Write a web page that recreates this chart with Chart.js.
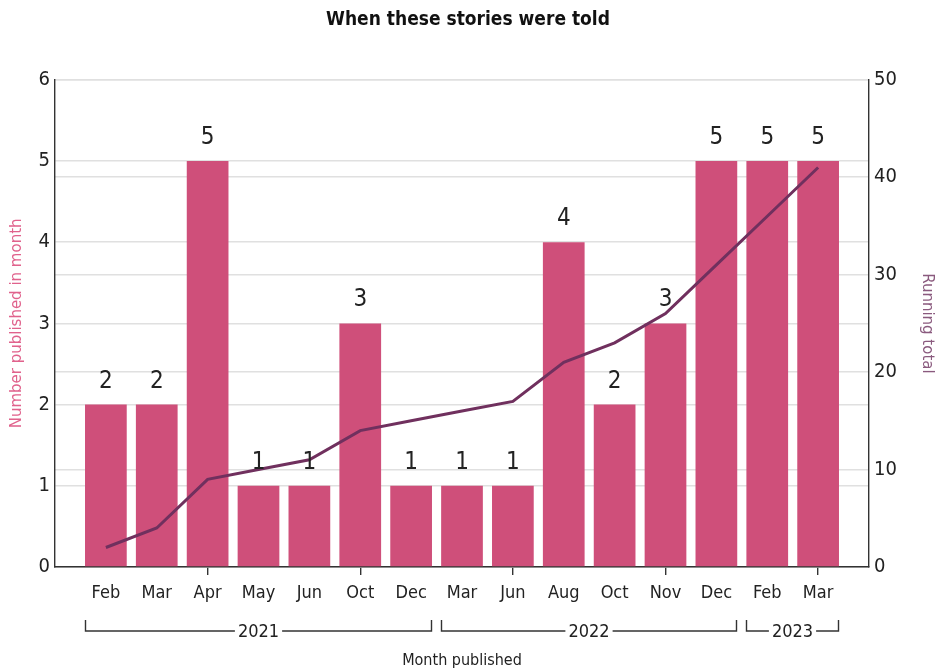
<!DOCTYPE html>
<html>
<head>
<meta charset="utf-8">
<script src="https://cdn.jsdelivr.net/npm/chart.js@4"></script>
<style>
  html, body { margin: 0; padding: 0; background: #fff; }
  #wrap { width: 936px; height: 670px; position: relative; }
</style>
</head>
<body>
<div id="wrap"><canvas id="chart"></canvas></div>
<script>
// Stories published per month, with the year each month belongs to
const months = ['Feb', 'Mar', 'Apr', 'May', 'Jun', 'Oct', 'Dec', 'Mar', 'Jun', 'Aug', 'Oct', 'Nov', 'Dec', 'Feb', 'Mar'];
const monthYears = ['2021', '2021', '2021', '2021', '2021', '2021', '2021', '2022', '2022', '2022', '2022', '2022', '2022', '2023', '2023'];
const published = [2, 2, 5, 1, 1, 3, 1, 1, 1, 4, 2, 3, 5, 5, 5];
const runningTotal = [2, 4, 9, 10, 11, 14, 15, 16, 17, 21, 23, 26, 31, 36, 41];

const NARROW = "'DejaVu Sans Condensed', sans-serif";
const BAR_COLOR = '#cf4f7a';
const LINE_COLOR = '#70305e';
const INK = '#222';

// Group consecutive months by year for the bracket row
function yearGroups() {
  const groups = [];
  monthYears.forEach((y, i) => {
    const last = groups[groups.length - 1];
    if (last && last.year === y) last.to = i;
    else groups.push({ year: y, from: i, to: i });
  });
  return groups;
}

// Value labels above each bar
const barLabels = {
  id: 'barLabels',
  afterDatasetsDraw(chart) {
    const meta = chart.getDatasetMeta(1);
    const ctx = chart.ctx;
    ctx.save();
    ctx.font = `24px ${NARROW}`;
    ctx.fillStyle = INK;
    ctx.textAlign = 'center';
    ctx.textBaseline = 'alphabetic';
    meta.data.forEach((bar, i) => {
      ctx.fillText(String(published[i]), bar.x, bar.y - 17);
    });
    ctx.restore();
  }
};

// Year brackets under the month labels
const yearBrackets = {
  id: 'yearBrackets',
  afterDraw(chart) {
    const meta = chart.getDatasetMeta(1);
    const ctx = chart.ctx;
    const yLine = 631, yTop = 620;
    ctx.save();
    ctx.strokeStyle = '#333';
    ctx.lineWidth = 1.4;
    ctx.font = `18px ${NARROW}`;
    ctx.fillStyle = INK;
    ctx.textAlign = 'center';
    ctx.textBaseline = 'middle';
    yearGroups().forEach(g => {
      const first = meta.data[g.from], last = meta.data[g.to];
      const x0 = Math.round(first.x - first.width / 2) + 0.5;
      const x1 = Math.round(last.x + last.width / 2) - 0.5;
      const mid = (x0 + x1) / 2;
      const half = ctx.measureText(g.year).width / 2 + 3;
      ctx.beginPath();
      ctx.moveTo(x0, yTop); ctx.lineTo(x0, yLine); ctx.lineTo(mid - half, yLine);
      ctx.moveTo(mid + half, yLine); ctx.lineTo(x1, yLine); ctx.lineTo(x1, yTop);
      ctx.stroke();
      ctx.fillText(g.year, mid, yLine + 1);
    });
    ctx.restore();
  }
};

const lineData = runningTotal.map((v, i) => ({ x: i, y: v }));
const barData = published.map((v, i) => ({ x: i, y: v }));

new Chart(document.getElementById('chart'), {
  type: 'bar',
  data: {
    datasets: [
      {
        type: 'line',
        label: 'Running total',
        data: lineData,
        yAxisID: 'y2',
        borderColor: LINE_COLOR,
        borderWidth: 3,
        pointRadius: 0,
        tension: 0,
        order: 0
      },
      {
        type: 'bar',
        label: 'Number published in month',
        data: barData,
        yAxisID: 'y',
        backgroundColor: BAR_COLOR,
        categoryPercentage: 1,
        barPercentage: 0.82,
        order: 1
      }
    ]
  },
  options: {
    responsive: true,
    maintainAspectRatio: false,
    animation: false,
    layout: { padding: 0 },
    plugins: {
      legend: { display: false },
      tooltip: { enabled: false },
      title: {
        display: true,
        text: 'When these stories were told',
        color: '#111',
        font: { family: NARROW, size: 19, weight: 'bold' },
        padding: { top: 9, bottom: 48 }
      }
    },
    scales: {
      x: {
        type: 'linear',
        offset: false,
        min: -1,
        max: 15,
        afterFit: s => { s.height = 103; },
        border: { display: true, color: '#333', width: 1.4 },
        grid: {
          offset: false,
          drawOnChartArea: false,
          drawTicks: true,
          tickLength: 8,
          lineWidth: 1.4,
          color: c => (c.tick && c.tick.value % 3 === 2) ? '#333' : 'rgba(0,0,0,0)'
        },
        ticks: {
          stepSize: 1,
          autoSkip: false,
          maxRotation: 0,
          padding: 8,
          color: INK,
          font: { family: NARROW, size: 18 },
          callback: v => months[v] ?? ''
        },
        title: {
          display: true,
          text: 'Month published',
          color: INK,
          font: { family: NARROW, size: 16 },
          padding: { top: 0, bottom: 0 }
        }
      },
      y: {
        position: 'left',
        min: 0,
        max: 6,
        afterFit: s => { s.width = 55; },
        border: { display: true, color: '#333', width: 1.4 },
        grid: { color: '#e0e0e0', lineWidth: 1.5, drawTicks: false },
        ticks: {
          stepSize: 1,
          padding: 5,
          color: INK,
          font: { family: NARROW, size: 20 }
        },
        title: {
          display: true,
          text: 'Number published in month',
          color: '#e0628c',
          font: { family: "'DejaVu Sans', sans-serif", size: 15 },
          padding: { top: 8, bottom: 0 }
        }
      },
      y2: {
        position: 'right',
        min: 0,
        max: 50,
        afterFit: s => { s.width = 67; },
        border: { display: true, color: '#333', width: 1.4 },
        grid: { color: '#e0e0e0', lineWidth: 1.5, drawTicks: false },
        ticks: {
          stepSize: 10,
          padding: 5,
          color: INK,
          font: { family: NARROW, size: 20 }
        },
        title: {
          display: true,
          text: 'Running total',
          color: '#8a5a7e',
          font: { family: "'DejaVu Sans', sans-serif", size: 15 },
          padding: { top: 0, bottom: 0 }
        }
      }
    }
  },
  plugins: [barLabels, yearBrackets]
});
</script>
</body>
</html>
